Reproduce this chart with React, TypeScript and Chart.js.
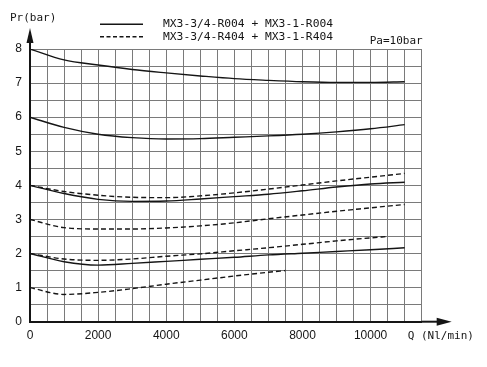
import React, { useEffect, useRef } from "react";
import { Chart, registerables } from "chart.js";

Chart.register(...registerables);

// Flow Q (Nl/min)
const qMain = [0, 1000, 2000, 3000, 4000, 5000, 6000, 7000, 8000, 9000, 10000, 11000];
const qDashLow2 = [0, 1000, 2000, 3000, 4000, 5000, 6000, 7000, 8000, 9000, 10000, 10500];
const qDashLow1 = [0, 1000, 2000, 3000, 4000, 5000, 6000, 7000, 7500];

// MX3-3/4-R004 + MX3-1-R004 (solid)
const solid8 = [8, 7.68, 7.53, 7.4, 7.3, 7.21, 7.13, 7.08, 7.04, 7.02, 7.02, 7.04];
const solid6 = [6, 5.7, 5.5, 5.4, 5.36, 5.37, 5.41, 5.45, 5.5, 5.57, 5.66, 5.78];
const solid4 = [4, 3.76, 3.59, 3.53, 3.54, 3.6, 3.67, 3.74, 3.84, 3.95, 4.04, 4.09];
const solid2 = [2, 1.76, 1.66, 1.71, 1.77, 1.83, 1.89, 1.96, 2.01, 2.06, 2.11, 2.17];

// MX3-3/4-R404 + MX3-1-R404 (dashed)
const dash4 = [4, 3.82, 3.71, 3.65, 3.64, 3.69, 3.78, 3.89, 4.01, 4.13, 4.24, 4.35];
const dash3 = [3, 2.76, 2.72, 2.72, 2.75, 2.81, 2.9, 3.02, 3.13, 3.24, 3.34, 3.44];
const dash2 = [2, 1.84, 1.8, 1.84, 1.92, 1.99, 2.08, 2.17, 2.27, 2.37, 2.46, 2.5];
const dash1 = [1, 0.8, 0.86, 0.97, 1.1, 1.22, 1.34, 1.45, 1.5];

const xTickLabels = [0, 2000, 4000, 6000, 8000, 10000];
const yTickLabels = [0, 1, 2, 3, 4, 5, 6, 7, 8];
const legendLabels = ["MX3-3/4-R004 + MX3-1-R004", "MX3-3/4-R404 + MX3-1-R404"];
const yTitle = "Pr(bar)";
const xTitle = "Q (Nl/min)";
const note = "Pa=10bar";

const INK = "#151515";
const GRID = "#7a7a7a";

function pts(xs: number[], ys: number[]) {
  return xs.map((x, i) => ({ x, y: ys[i] }));
}

function ds(xs: number[], ys: number[], dashed: boolean) {
  return {
    data: pts(xs, ys),
    borderColor: INK,
    borderWidth: 1.4,
    borderDash: dashed ? [5, 3] : [],
    pointRadius: 0,
    fill: false,
    cubicInterpolationMode: "monotone" as const,
  };
}

const decorPlugin = {
  id: "decor",
  afterDraw(chart: any) {
    const { ctx, chartArea, scales } = chart;
    const x0 = scales.x.getPixelForValue(0);
    const y0 = scales.y.getPixelForValue(0);
    const top = chartArea.top;
    const right = chartArea.right;
    ctx.save();
    ctx.strokeStyle = INK;
    ctx.fillStyle = INK;
    ctx.lineWidth = 2;
    // y axis arrow
    ctx.beginPath();
    ctx.moveTo(x0, top);
    ctx.lineTo(x0, top - 8);
    ctx.stroke();
    ctx.beginPath();
    ctx.moveTo(x0, top - 21);
    ctx.lineTo(x0 - 3.5, top - 6);
    ctx.lineTo(x0 + 3.5, top - 6);
    ctx.closePath();
    ctx.fill();
    // x axis arrow
    ctx.beginPath();
    ctx.moveTo(right, y0);
    ctx.lineTo(right + 17, y0);
    ctx.stroke();
    ctx.beginPath();
    ctx.moveTo(right + 30, y0);
    ctx.lineTo(right + 15, y0 - 4);
    ctx.lineTo(right + 15, y0 + 4);
    ctx.closePath();
    ctx.fill();

    // texts
    ctx.font = "11px 'DejaVu Sans Mono'";
    ctx.textBaseline = "middle";
    ctx.textAlign = "left";
    ctx.fillText(yTitle, 10, 18);
    ctx.fillText(xTitle, right - 14, y0 + 14.5);
    ctx.textAlign = "right";
    ctx.fillText(note, right + 1, top - 7.5);

    // legend
    ctx.textAlign = "left";
    ctx.font = "11.3px 'DejaVu Sans Mono'";
    ctx.lineWidth = 1.4;
    const rows = [24.3, 36.8];
    legendLabels.forEach((lab, i) => {
      ctx.setLineDash(i === 0 ? [] : [4, 2.5]);
      ctx.beginPath();
      ctx.moveTo(100, rows[i]);
      ctx.lineTo(143, rows[i]);
      ctx.stroke();
      ctx.setLineDash([]);
      ctx.fillText(lab, 163, rows[i]);
    });
    ctx.restore();
  },
};

export default function App() {
  const ref = useRef<HTMLCanvasElement | null>(null);
  useEffect(() => {
    if (!ref.current) return;
    const chart = new Chart(ref.current, {
      type: "line",
      data: {
        datasets: [
          ds(qMain, solid8, false),
          ds(qMain, solid6, false),
          ds(qMain, solid4, false),
          ds(qMain, solid2, false),
          ds(qMain, dash4, true),
          ds(qMain, dash3, true),
          ds(qDashLow2, dash2, true),
          ds(qDashLow1, dash1, true),
        ],
      },
      options: {
        responsive: false,
        animation: false,
        devicePixelRatio: 1,
        layout: { padding: { top: 49, right: 65.3, left: 0, bottom: 0 } },
        plugins: { legend: { display: false }, tooltip: { enabled: false } },
        scales: {
          x: {
            type: "linear",
            min: 0,
            max: 11500,
            afterFit: (s: any) => {
              s.height = 45.3;
            },
            ticks: {
              stepSize: 500,
              autoSkip: false,
              maxRotation: 0,
              padding: 7,
              color: INK,
              font: { family: "'Liberation Sans'", size: 12 },
              callback: (v: any) => (xTickLabels.includes(Number(v)) ? String(v) : ""),
            },
            grid: { color: GRID, lineWidth: 1, drawTicks: false },
            border: { color: INK, width: 2 },
          },
          y: {
            type: "linear",
            min: 0,
            max: 8,
            afterFit: (s: any) => {
              s.width = 30;
            },
            ticks: {
              stepSize: 0.5,
              autoSkip: false,
              padding: 8,
              color: INK,
              font: { family: "'Liberation Sans'", size: 12 },
              callback: (v: any) => (yTickLabels.includes(Number(v)) ? String(v) : ""),
            },
            grid: { color: GRID, lineWidth: 1, drawTicks: false },
            border: { color: INK, width: 2 },
          },
        },
      },
      plugins: [decorPlugin],
    });
    return () => chart.destroy();
  }, []);
  return (
    <div style={{ position: "fixed", left: 0, top: 0, width: 487, height: 367, background: "#fff" }}>
      <canvas ref={ref} width={487} height={367} style={{ display: "block" }} />
    </div>
  );
}
